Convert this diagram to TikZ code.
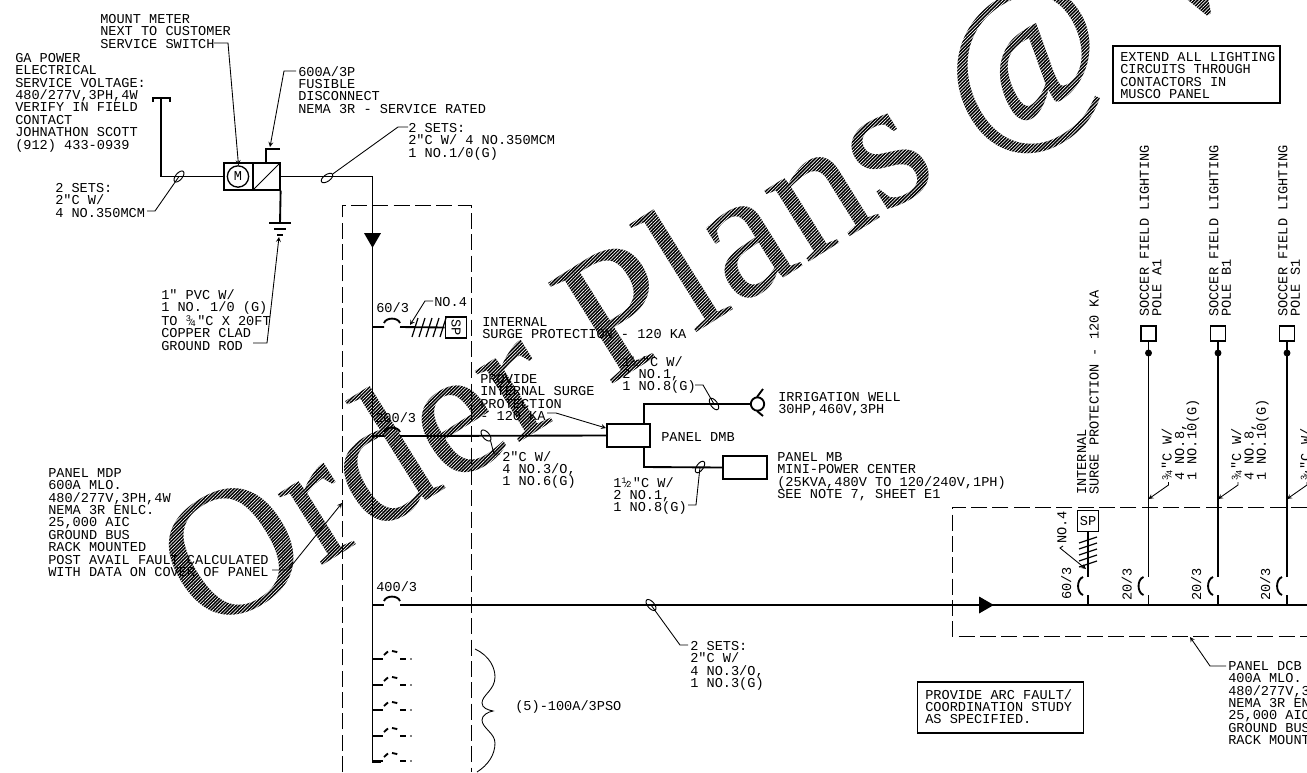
\documentclass[tikz,border=0pt]{standalone}
\usepackage{fontspec}
\setmainfont{Liberation Serif}
\setmonofont{Liberation Mono}
\usetikzlibrary{shapes.geometric,patterns.meta}
\newcommand{\lblfont}{\fontsize{10.2}{9.3}\selectfont\ttfamily}
\newcommand{\sm}{\fontsize{6.5}{6.5}\selectfont}
\newcommand{\frc}[2]{\raisebox{.5ex}{\sm #1}\kern-.2em{\sm/}\kern-.2em\raisebox{-.1ex}{\sm #2}\kern.1em}
\begin{document}
\begin{tikzpicture}[
    x=0.75pt,y=-0.75pt,
    wire/.style={line width=1.4pt},
    hair/.style={line width=.65pt},
    ldr/.style={hair,->,>=stealth},
    lbl/.style={font=\lblfont,align=left,anchor=north west,inner sep=0pt},
    vlbl/.style={lbl,rotate=90},
    dbox/.style={line width=.6pt,dash pattern=on 12pt off 4pt},
    box/.style={draw,line width=1.2pt,inner sep=0pt},
    tick/.style={ellipse,draw,line width=.7pt,inner sep=0pt,minimum width=10pt,minimum height=5pt},
    sp/.style={box,minimum size=16pt,font=\lblfont},
    hatch/.style={pattern={Lines[angle=45,distance=1.8pt,line width=.5pt]},pattern color=white}]
 \useasboundingbox (0,0) rectangle (1307,772);
 \clip (0,0) rectangle (1307,772);
 % watermark
 \node [rotate=32,anchor=base west,inner sep=0pt,text=black,font=\fontsize{137}{140}\selectfont] (wm) at (207,638) {Order Plans @ W};
 \fill [hatch] (0,0) rectangle (1307,772);
 % service side
 \node [lbl] (meterlbl) at (100,14) {MOUNT METER\\NEXT TO CUSTOMER\\SERVICE SWITCH};
 \node [lbl] (gapower) at (15,53) {GA POWER\\ELECTRICAL\\SERVICE VOLTAGE:\\480/277V,3PH,4W\\VERIFY IN FIELD\\CONTACT\\JOHNATHON SCOTT\\(912) 433-0939};
 \node [lbl] (disclbl) at (298,66) {600A/3P\\FUSIBLE\\DISCONNECT\\NEMA 3R - SERVICE RATED};
 \node [lbl] (setsa) at (55,183) {2 SETS:\\2"C W/\\4 NO.350MCM};
 \node [lbl] (setsb) at (408,123) {2 SETS:\\2"C W/ 4 NO.350MCM\\1 NO.1/0(G)};
 \node [lbl] (rodlbl) at (161,289) {1" PVC W/\\1 NO. 1/0 (G)\\TO \frc{3}{4}"C X 20FT\\COPPER CLAD\\GROUND ROD};
 \node [box,minimum width=22pt,minimum height=20pt] (meter) at (238.5,176.5) {};
 \node [circle,draw,line width=1pt,minimum size=16pt,inner sep=0pt,font=\lblfont] (mtr) at (238,176.5) {M};
 \node [box,minimum width=20pt,minimum height=20pt] (disc) at (266.5,176.5) {};
 \coordinate (teel) at (153,102);
 \coordinate (teetl) at (153,98);
 \coordinate (teetr) at (170,98);
 \coordinate (teer) at (170,102);
 \coordinate (teem) at (161,98);
 \coordinate (teeb) at (161,176.5);
 \coordinate (corner) at (372.5,176.5);
 \coordinate (busbot) at (372.5,762);
 \coordinate (busfoot) at (381,762);
 \draw [wire] (teel) -- (teetl) -- (teetr) -- (teer);
 \draw [wire] (teem) -- (teeb) -- (meter.west);
 \draw [wire] (disc.east |- corner) -- (corner) -- (busbot) -- (busfoot);
 \draw [hair] (disc.south west) -- (disc.north east);
 \coordinate (stuba) at (266,149);
 \coordinate (stubb) at (280,149);
 \draw [wire] (stuba |- disc.north) -- (stuba) -- (stubb);
 \coordinate (gnda) at (280,223);
 \coordinate (gndal) at (269,223);
 \coordinate (gndar) at (291,223);
 \coordinate (gndbl) at (274,229);
 \coordinate (gndbr) at (286,229);
 \coordinate (gndcl) at (277,235);
 \coordinate (gndcr) at (283,235);
 \draw [wire] (disc.south east) -- (gnda);
 \draw [wire] (gndal) -- (gndar) (gndbl) -- (gndbr) (gndcl) -- (gndcr);
 \node [tick,rotate=50] (tkwest) at (179,176.5) {};
 \node [tick,rotate=35] (tkeast) at (327,178) {};
 \coordinate (wa) at (147,211);
 \coordinate (wb) at (155,211);
 \coordinate (ea) at (408,127);
 \coordinate (eb) at (398,127);
 \draw [hair] (wa) -- (wb) -- (tkwest.center);
 \draw [hair] (ea) -- (eb) -- (tkeast.east);
 \coordinate (ma) at (214,43);
 \coordinate (mb) at (228,43);
 \draw [ldr] (ma) -- (mb) -- (meter.north |- mtr.north);
 \coordinate (da) at (296,71);
 \coordinate (db) at (284,71);
 \coordinate (dc) at (270,147);
 \draw [ldr] (da) -- (db) -- (dc);
 \coordinate (ra) at (253,343);
 \coordinate (rb) at (267,343);
 \coordinate (rc) at (279,237);
 \draw [ldr] (ra) -- (rb) -- (rc);
 \node [isosceles triangle,isosceles triangle apex angle=60,fill,inner sep=0pt,minimum size=11pt,rotate=-90] (feed) at (372.5,238) {};
 % panel MDP
 \coordinate (mdptl) at (342,205);
 \coordinate (mdptr) at (471,205);
 \coordinate (mdpbl) at (342,772);
 \coordinate (mdpbr) at (471,772);
 \draw [dbox] (mdpbl) -- (mdptl) -- (mdptr) -- (mdpbr);
 \node [lbl] (mdplbl) at (48,468) {PANEL MDP\\600A MLO.\\480/277V,3PH,4W\\NEMA 3R ENLC.\\25,000 AIC\\GROUND BUS\\RACK MOUNTED\\POST AVAIL FAULT CALCULATED\\WITH DATA ON COVER OF PANEL};
 \coordinate (mdpa) at (272,570);
 \coordinate (mdpb) at (288,570);
 \coordinate (mdpc) at (342,503);
 \draw [ldr] (mdpa) -- (mdpb) -- (mdpc);
 \node [lbl] (spa) at (376,302) {60/3};
 \node [lbl] (spb) at (434,297) {NO.4};
 \node [lbl] (spc) at (482,317) {INTERNAL\\SURGE PROTECTION - 120 KA};
 \node [sp] (spbox) at (456,327.5) {\rotatebox{-90}{SP}};
 \coordinate (sa) at (372.5,327);
 \coordinate (sb) at (384,327);
 \coordinate (sc) at (400,327);
 \draw [wire] (sa) -- (sb) (sc) -- (spbox.west);
 \draw [wire] (384,323) to [bend left=70] (400,323);
 \foreach \x in {415,422,429,436,443}
   \draw [hair,line width=.9pt] (\x+3,318) -- (\x-3,337);
 \coordinate (noa) at (433,301);
 \coordinate (nob) at (425,301);
 \coordinate (noc) at (410,325);
 \draw [ldr] (noa) -- (nob) -- (noc);
 % panel DMB
 \node [lbl] (dmbamp) at (375,412) {200/3};
 \node [box,minimum width=32pt,minimum height=17pt] (dmb) at (628.5,435.5) {};
 \node [lbl] (dmblbl) at (661,432) {PANEL DMB};
 \coordinate (db1) at (372.5,436);
 \coordinate (db2) at (384,436);
 \coordinate (db3) at (400,436);
 \draw [wire] (db1) -- (db2) (db3) -- (dmb.west);
 \draw [wire] (384,432) to [bend left=70] (400,432);
 \node [tick,rotate=-50] (tkdmb) at (486,435.5) {};
 \node [lbl] (dmbcbl) at (502,451) {2"C W/\\4 NO.3/O,\\1 NO.6(G)};
 \coordinate (dc1) at (500,454);
 \coordinate (dc2) at (494,454);
 \draw [hair] (dc1) -- (dc2) -- (tkdmb.east);
 \node [lbl] (provlbl) at (480,374) {PROVIDE\\INTERNAL SURGE\\PROTECTION\\- 120 KA};
 \coordinate (pv1) at (547,413);
 \coordinate (pv2) at (556,413);
 \coordinate (pv3) at (606,428);
 \draw [ldr] (pv1) -- (pv2) -- (pv3);
 \node [circle,draw,wire,minimum size=10pt,inner sep=0pt] (well) at (757.5,404) {};
 \node [lbl] (welllbl) at (778,392) {IRRIGATION WELL\\30HP,460V,3PH};
 \coordinate (up1) at (644,404);
 \coordinate (lo1) at (644,467);
 \coordinate (wt1) at (757,397);
 \coordinate (wt2) at (763,389);
 \coordinate (wt3) at (757,411);
 \coordinate (wt4) at (763,416);
 \draw [wire] (up1 |- dmb.north) -- (up1) -- (well.west);
 \draw [wire] (wt1) -- (wt2) (wt3) -- (wt4);
 \node [box,minimum width=33pt,minimum height=17pt] (mb) at (745,467.5) {};
 \node [lbl] (mblbl) at (777,452) {PANEL MB\\MINI-POWER CENTER\\(25KVA,480V TO 120/240V,1PH)\\SEE NOTE 7, SHEET E1};
 \draw [wire] (lo1 |- dmb.south) -- (lo1) -- (mb.west);
 \node [tick,rotate=-55] (tkwell) at (714,404) {};
 \node [tick,rotate=55] (tkmb) at (700,467) {};
 \node [lbl] (wellcbl) at (622,356) {1\frc{1}{2}"C W/\\2 NO.1,\\1 NO.8(G)};
 \node [lbl] (mbcbl) at (613,477) {1\frc{1}{2}"C W/\\2 NO.1,\\1 NO.8(G)};
 \coordinate (w1) at (695,385);
 \coordinate (w2) at (703,385);
 \coordinate (m1) at (688,505);
 \coordinate (m2) at (696,505);
 \draw [hair] (w1) -- (w2) -- (tkwell.center);
 \draw [hair] (m1) -- (m2) -- (tkmb.center);
 % feeder to panel DCB
 \node [lbl] (feedamp) at (376,581) {400/3};
 \coordinate (f1) at (372.5,605);
 \coordinate (f2) at (384,605);
 \coordinate (f3) at (400,605);
 \coordinate (f4) at (1307,605);
 \draw [wire] (f1) -- (f2) (f3) -- (f4);
 \draw [wire] (384,601) to [bend left=70] (400,601);
 \node [tick,rotate=-50] (tkfeed) at (651,605) {};
 \node [lbl] (feedcbl) at (690,641) {2 SETS:\\2"C W/\\4 NO.3/O,\\1 NO.3(G)};
 \coordinate (fc1) at (688,645);
 \coordinate (fc2) at (680,645);
 \draw [hair] (fc1) -- (fc2) -- (tkfeed.center);
 \foreach \y in {659,685,710,736,761} {
   \draw [wire] (372.5,\y) -- (383,\y);
   \draw [wire,dash pattern=on 4pt off 3pt] (384,\y-4) to [bend left=60] (400,\y-4);
   \draw [wire] (400,\y) -- (406,\y);
   \fill (411,\y) circle (.7pt);
 }
 \draw [hair] (475,649) .. controls (490,656) and (495,668) .. (495,677)
   .. controls (495,690) and (482,695) .. (482,703)
   .. controls (482,708) and (488,710) .. (493,711)
   .. controls (488,712) and (482,715) .. (482,720)
   .. controls (482,728) and (495,733) .. (495,743)
   .. controls (495,755) and (488,765) .. (477,772);
 \node [lbl] (sparelbl) at (515,700) {(5)-100A/3PSO};
 % panel DCB
 \coordinate (dcbtr) at (1307,507);
 \coordinate (dcbtl) at (952,507);
 \coordinate (dcbbl) at (952,636);
 \coordinate (dcbbr) at (1307,636);
 \draw [dbox] (dcbtr) -- (dcbtl) -- (dcbbl) -- (dcbbr);
 \node [isosceles triangle,isosceles triangle apex angle=60,fill,inner sep=0pt,minimum size=11pt] (feedb) at (984,605) {};
 \node [sp] (spdcb) at (1088,521) {SP};
 \coordinate (sd1) at (1088,605);
 \coordinate (sd2) at (1088,595);
 \coordinate (sd3) at (1088,577);
 \draw [wire] (sd1) -- (sd2) (sd3) -- (spdcb.south);
 \draw [wire] (1083,577) to [bend right=70] (1083,595);
 \foreach \y in {540,546,552,558,564}
   \draw [hair,line width=.9pt] (1079,\y+3) -- (1097,\y-3);
 \node [vlbl] (amp603) at (1061,600) {60/3};
 \node [vlbl] (no4) at (1057,544) {NO.4};
 \coordinate (na) at (1063,546);
 \coordinate (nb) at (1060,548);
 \coordinate (nc) at (1086,569);
 \draw [ldr] (na) -- (nb) -- (nc);
 \node [vlbl] (splbl) at (1077,495) {INTERNAL\\SURGE PROTECTION - 120 KA};
 \foreach \x/\nm in {1148.5/A1,1218/B1,1287/S1} {
   \node [box,minimum size=11pt] (pole\nm) at (\x,333.5) {};
   \fill (\x,353) circle (2.6pt);
   \node [vlbl] (pl\nm) at (\x-9,317) {SOCCER FIELD LIGHTING\\POLE \nm};
   \node [vlbl] (ck\nm) at (\x+13,481) {\frc{3}{4}"C W/\\4 NO.8,\\1 NO.10(G)};
   \coordinate (bk\nm) at (\x,605);
   \coordinate (bu\nm) at (\x,595);
   \coordinate (bv\nm) at (\x,577);
   \draw [wire] (bk\nm) -- (bu\nm) (bv\nm) -- (pole\nm.south);
   \draw [wire] (\x-5,577) to [bend right=70] (\x-5,595);
   \node [vlbl] (am\nm) at (\x-27,601) {20/3};
   \coordinate (la\nm) at (\x+20,482);
   \coordinate (lb\nm) at (\x+20,485);
   \coordinate (lc\nm) at (\x,499);
   \draw [ldr] (la\nm) -- (lb\nm) -- (lc\nm);
 }
 \node [lbl] (dcblbl) at (1228,661) {PANEL DCB\\400A MLO.\\480/277V,3PH,4W\\NEMA 3R ENLC.\\25,000 AIC\\GROUND BUS\\RACK MOUNTED};
 \coordinate (dl1) at (1226,666);
 \coordinate (dl2) at (1210,666);
 \coordinate (dl3) at (1190,637);
 \draw [ldr] (dl1) -- (dl2) -- (dl3);
 % notes
 \node [box,minimum width=124.5pt,minimum height=38pt] (arcnote) at (1000.5,707.5) {};
 \node [lbl] (arctxt) at (925,689) {PROVIDE ARC FAULT/\\COORDINATION STUDY\\AS SPECIFIED.};
 \node [box,fill=white,minimum width=125pt,minimum height=43pt] (musco) at (1196.5,74.5) {};
 \node [lbl] (muscotxt) at (1120,52) {EXTEND ALL LIGHTING\\CIRCUITS THROUGH\\CONTACTORS IN\\MUSCO PANEL};
\end{tikzpicture}
\end{document}
